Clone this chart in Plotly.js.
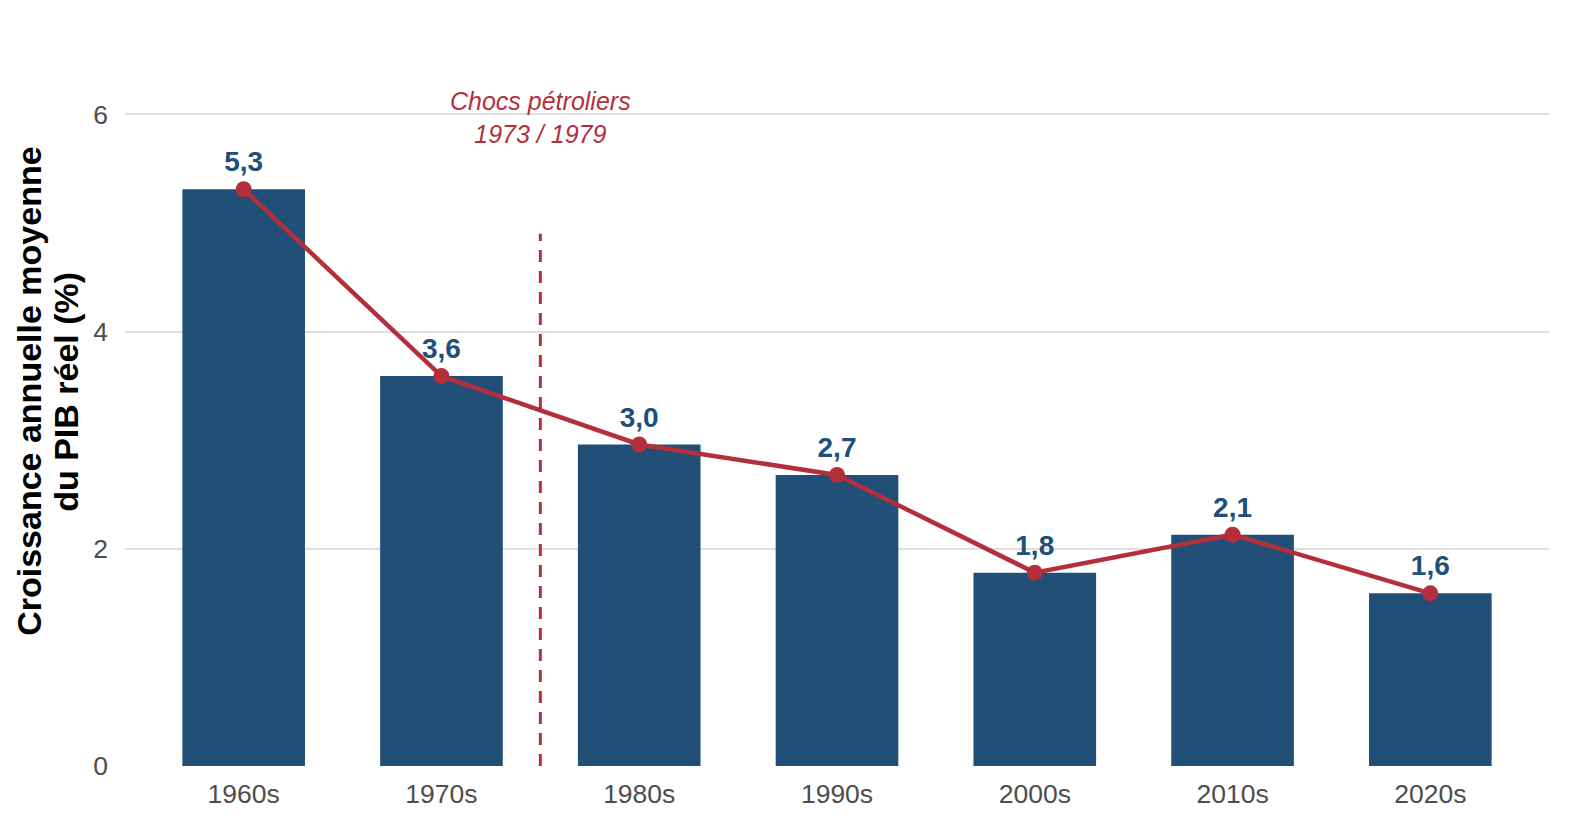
<!DOCTYPE html>
<html>
<head>
<meta charset="utf-8">
<script src="https://cdn.plot.ly/plotly-3.0.1.min.js"></script>
<style>
  html, body { margin: 0; padding: 0; background: #ffffff; overflow: hidden; }
  #growthChart { width: 1574px; height: 825px; display: block; }
</style>
</head>
<body>
<div id="growthChart"></div>
<script>
const decades = ["1960s", "1970s", "1980s", "1990s", "2000s", "2010s", "2020s"];
const growthValues = [5.31, 3.59, 2.96, 2.68, 1.78, 2.13, 1.59];
const growthLabels = ["5,3", "3,6", "3,0", "2,7", "1,8", "2,1", "1,6"];
const shockPosition = 1.5;
const shockTop = 4.9;
const shockText = "Chocs pétroliers<br>1973 / 1979";
const titleLines = ["Croissance annuelle moyenne", "du PIB réel (%)"];

const BAR_COLOUR = "#214f78";
const LINE_COLOUR = "#b32f3b";
const FONT_FAMILY = '"Liberation Sans", Arial, sans-serif';

const data = [
    {
        x: decades,
        y: growthValues,
        type: "bar",
        width: 0.62,
        marker: { color: BAR_COLOUR },
        hoverinfo: "skip"
    },
    {
        x: decades,
        y: growthValues,
        type: "scatter",
        mode: "lines+markers+text",
        text: growthLabels,
        textposition: "top center",
        textfont: { family: FONT_FAMILY, size: 28, color: BAR_COLOUR, weight: "bold" },
        line: { color: LINE_COLOUR, width: 4.5 },
        marker: { color: LINE_COLOUR, size: 16 },
        cliponaxis: false,
        hoverinfo: "skip"
    }
];

// y title drawn as two rotated annotations so the line spacing stays tight
const titleAnnotations = titleLines.map((line, i) => ({
    text: line,
    xref: "paper",
    yref: "paper",
    x: 0,
    y: 0.53,
    xanchor: "center",
    yanchor: "middle",
    xshift: i === 0 ? -96 : -59,
    textangle: -90,
    showarrow: false,
    font: { family: FONT_FAMILY, size: 34, color: "#000000", weight: "bold" }
}));

const layout = {
    width: 1574,
    height: 825,
    margin: { l: 125, r: 25, t: 60, b: 59 },
    paper_bgcolor: "#ffffff",
    plot_bgcolor: "#ffffff",
    showlegend: false,
    font: { family: FONT_FAMILY, color: "#4d4d4d" },
    xaxis: {
        type: "category",
        range: [-0.6, 6.6],
        automargin: false,
        showgrid: false,
        zeroline: false,
        showline: false,
        ticks: "",
        tickfont: { size: 26.5, color: "#4d4d4d" },
        ticklabelstandoff: 9
    },
    yaxis: {
        range: [0, 6.5],
        automargin: false,
        tickvals: [0, 2, 4, 6],
        ticktext: ["0", "2", "4", "6"],
        showgrid: true,
        gridcolor: "#dedede",
        gridwidth: 2,
        zeroline: false,
        showline: false,
        ticks: "",
        tickfont: { size: 26.5, color: "#4d4d4d" },
        ticklabelstandoff: 16
    },
    shapes: [
        {
            type: "line",
            xref: "x",
            yref: "y",
            x0: shockPosition,
            x1: shockPosition,
            y0: 0,
            y1: shockTop,
            layer: "above",
            line: { color: LINE_COLOUR, width: 3, dash: "12px,9px" }
        }
    ],
    annotations: [
        {
            x: shockPosition,
            y: 5.97,
            xref: "x",
            yref: "y",
            text: shockText,
            showarrow: false,
            font: { family: FONT_FAMILY, size: 25, color: LINE_COLOUR, style: "italic" },
            align: "center"
        },
        ...titleAnnotations
    ]
};

Plotly.newPlot("growthChart", data, layout, { displayModeBar: false, staticPlot: true });
</script>
</body>
</html>
